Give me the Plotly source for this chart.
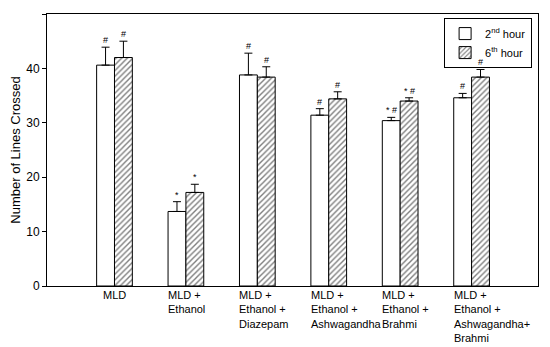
import plotly.graph_objects as go

categories = ["MLD", "MLD +<br>Ethanol", "MLD +<br>Ethanol +<br>Diazepam",
              "MLD +<br>Ethanol +<br>Ashwagandha", "MLD +<br>Ethanol +<br>Brahmi",
              "MLD +<br>Ethanol +<br>Ashwagandha+<br>Brahmi"]
hour2 = [40.6, 13.7, 38.8, 31.4, 30.4, 34.6]
hour2_err = [3.3, 1.8, 4.0, 1.2, 0.6, 0.8]
hour6 = [42.0, 17.2, 38.4, 34.4, 34.0, 38.4]
hour6_err = [3.0, 1.5, 1.9, 1.3, 0.6, 1.4]
marks2 = ["#", "*", "#", "#", "* #", "#"]
marks6 = ["#", "*", "#", "#", "* #", "#"]
yticks = [0, 10, 20, 30, 40, 50]

FONT = "Arial, Liberation Sans, sans-serif"
xs = list(range(len(categories)))

fig = go.Figure()
fig.add_trace(go.Bar(
    x=xs, y=hour2, name="2<sup>nd</sup> hour",
    marker=dict(color="white", line=dict(color="black", width=1)),
    error_y=dict(type="data", array=hour2_err, arrayminus=[0]*6, symmetric=False,
                 color="black", thickness=1, width=4),
))
fig.add_trace(go.Bar(
    x=xs, y=hour6, name="6<sup>th</sup> hour",
    marker=dict(color="white", line=dict(color="black", width=1),
                pattern=dict(shape="/", fgcolor="black", bgcolor="white", size=4, solidity=0.35)),
    error_y=dict(type="data", array=hour6_err, arrayminus=[0]*6, symmetric=False,
                 color="black", thickness=1, width=4),
))

annotations = []
for i in xs:
    annotations.append(dict(x=i - 0.125, y=hour2[i] + hour2_err[i], text=marks2[i],
                            showarrow=False, yanchor="bottom", yshift=0,
                            font=dict(size=9, family=FONT, color="black")))
    annotations.append(dict(x=i + 0.125, y=hour6[i] + hour6_err[i], text=marks6[i],
                            showarrow=False, yanchor="bottom", yshift=0,
                            font=dict(size=9, family=FONT, color="black")))
    if i == 0:
        annotations.append(dict(x=i, y=0, yref="paper", text=categories[i], showarrow=False,
                                xanchor="center", yanchor="top", yshift=-1,
                                font=dict(size=11, family=FONT, color="black")))
    else:
        annotations.append(dict(x=i - 0.25, y=0, yref="paper", text=categories[i], showarrow=False,
                                xanchor="left", yanchor="top", align="left", yshift=-1, xshift=-2,
                                font=dict(size=11, family=FONT, color="black")))

fig.update_layout(
    width=542, height=339,
    margin=dict(l=39, r=12, t=6, b=61, autoexpand=False),
    plot_bgcolor="white", paper_bgcolor="white",
    barmode="group", bargap=0.5, bargroupgap=0,
    font=dict(family=FONT, size=12, color="black"),
    showlegend=True,
    legend=dict(x=0.988, y=0.985, xanchor="right", yanchor="top",
                bordercolor="black", borderwidth=1, bgcolor="white",
                font=dict(size=11, family=FONT), tracegroupgap=0),
    annotations=annotations,
)
fig.update_xaxes(range=[-0.945, 5.93], showline=True, linecolor="black", linewidth=1,
                 mirror=True, showticklabels=False, ticks="", showgrid=False, zeroline=False,
                 automargin=False)
fig.update_yaxes(range=[0, 50], tickvals=yticks, showline=True, linecolor="black", linewidth=1,
                 mirror=True, ticks="outside", ticklen=4, tickcolor="black", showgrid=False,
                 zeroline=False, tickfont=dict(size=12, family=FONT), automargin=False,
                 title=dict(text="Number of Lines Crossed", font=dict(size=13, family=FONT), standoff=6))

fig.write_html("out.html")
